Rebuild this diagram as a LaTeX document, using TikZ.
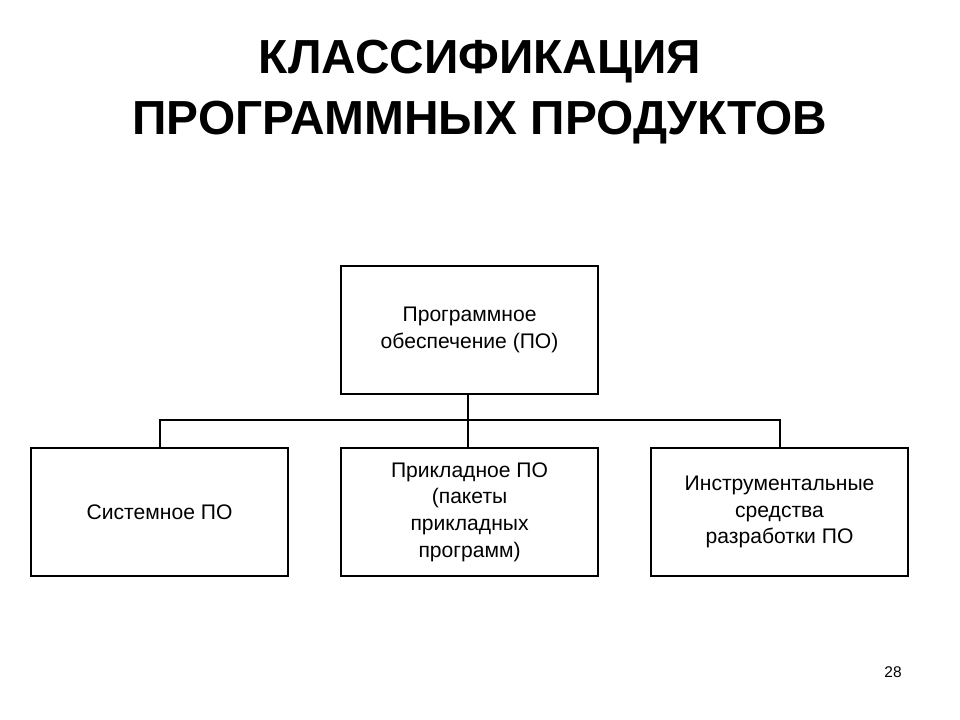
\documentclass[tikz,border=0pt]{standalone}
\usepackage{fontspec}
\setmainfont{Liberation Sans}
\begin{document}
\begin{tikzpicture}[x=0.025cm,y=-0.025cm,
  box/.style={draw,line width=1.5pt,minimum width=257*0.025cm,minimum height=128*0.025cm,align=center,font=\fontsize{15}{19}\selectfont,inner sep=0pt},
  conn/.style={line width=1.5pt}]
\useasboundingbox (0,0) rectangle (960,720);
\node[font=\bfseries\fontsize{34}{43}\selectfont,align=center] (title) at (480,92) {КЛАССИФИКАЦИЯ\\ПРОГРАММНЫХ ПРОДУКТОВ};
\node[box,anchor=north west] (top) at (340,265) {Программное\\обеспечение (ПО)};
\node[box,anchor=north west] (sys) at (30,447) {Системное ПО};
\node[box,anchor=north west] (app) at (340,447) {Прикладное ПО\\(пакеты\\прикладных\\программ)};
\node[box,anchor=north west] (inst) at (650,447) {Инструментальные\\средства\\разработки ПО};
\coordinate (j) at (468,420);
\draw[conn] (top.south -| j) -- (j);
\draw[conn] (sys.north) |- (j) -| (inst.north);
\draw[conn] (app.north -| j) -- (j);
\node[font=\fontsize{11}{13}\selectfont] (pg) at (893,672) {28};
\end{tikzpicture}
\end{document}
